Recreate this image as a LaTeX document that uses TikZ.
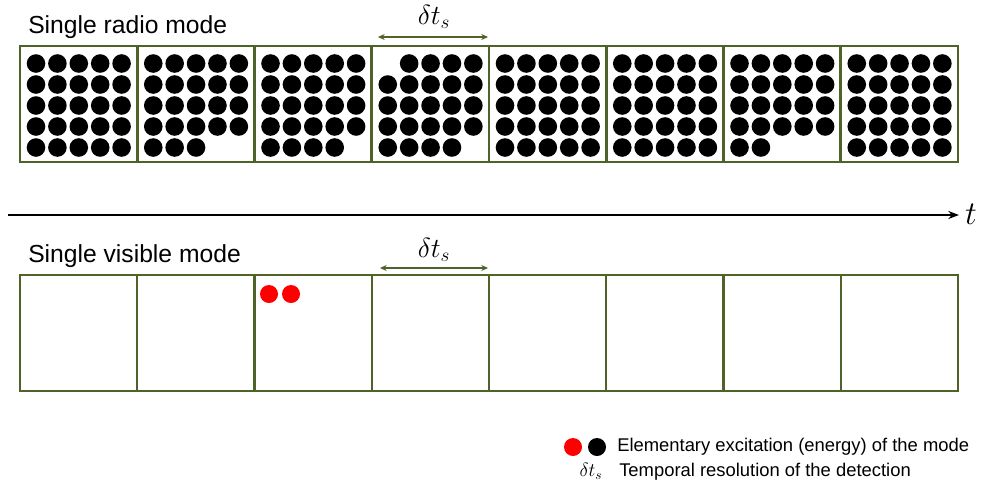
\documentclass[tikz,border=0pt]{standalone}
\usepackage{amsmath}
\usepackage{fontspec}
\setmainfont{Liberation Sans}
\usetikzlibrary{arrows.meta}
\definecolor{framegreen}{HTML}{4F6228}
\tikzset{
  cellbox/.style={draw=framegreen,line width=#1},
  quantum/.style={fill=black},
  label/.style={inner sep=0pt,anchor=west,font=\fontsize{18.5}{21}\selectfont},
  legendtext/.style={inner sep=0pt,anchor=west,font=\fontsize{13.8}{16}\selectfont},
  resol/.style={draw=framegreen,line width=0.9pt,{Stealth[length=5pt,width=4.5pt]}-{Stealth[length=5pt,width=4.5pt]}}
}
\begin{document}
\begin{tikzpicture}[x=0.75pt,y=-0.75pt]
\useasboundingbox (0,0) rectangle (981,486);

% radio mode
\node[label] (radiolabel) at (28,27) {Single radio mode};
\foreach \c/\s/\n in {0/1/5,1/1/3,2/1/4,3/2/4,4/1/5,5/1/5,6/1/2,7/1/5} {
  \pgfmathsetmacro{\xl}{20+\c*117.25}
  \draw[cellbox=2.1pt] (\xl,46) rectangle ++(117.25,116);
  \foreach \col in {\s,...,5}
    \fill[quantum] (\xl+16+\col*21.4-21.4,63.5) circle (9.3);
  \foreach \row in {2,3,4}
    \foreach \col in {1,...,5}
      \fill[quantum] (\xl+16+\col*21.4-21.4,63.5+\row*21-21) circle (9.3);
  \foreach \col in {1,...,\n}
    \fill[quantum] (\xl+16+\col*21.4-21.4,147.5) circle (9.3);
}
\coordinate (radioL) at (378,37);
\coordinate (radioR) at (488,37);
\draw[resol] (radioL) -- (radioR);
\node[font=\fontsize{22}{24}\selectfont] (radiodt) at (434,17) {$\delta t_s$};

% time axis
\coordinate (tstart) at (8,215);
\coordinate (tend) at (959,215);
\draw[line width=1.6pt,-{Stealth[length=8pt,width=6pt]}] (tstart) -- (tend);
\node[font=\fontsize{24}{26}\selectfont,inner sep=0pt] (tlabel) at (971,214) {$t$};

% visible mode
\node[label] (vislabel) at (28,256) {Single visible mode};
\foreach \c in {0,...,7}
  \draw[cellbox=1.6pt] (20+\c*117.25,275) rectangle ++(117.25,116);
\fill[red] (269,294) circle (9);
\fill[red] (291,294) circle (9);
\coordinate (visL) at (380,268);
\coordinate (visR) at (488,268);
\draw[resol] (visL) -- (visR);
\node[font=\fontsize{22}{24}\selectfont] (visdt) at (434,250) {$\delta t_s$};

% legend
\fill[red] (573,447) circle (9);
\fill[black] (597,447) circle (9);
\node[legendtext] (legexc) at (617,447) {Elementary excitation (energy) of the mode};
\node[font=\fontsize{14}{16}\selectfont] (legdt) at (591,471) {$\delta t_s$};
\node[legendtext] (legres) at (619,472) {Temporal resolution of the detection};
\end{tikzpicture}
\end{document}
